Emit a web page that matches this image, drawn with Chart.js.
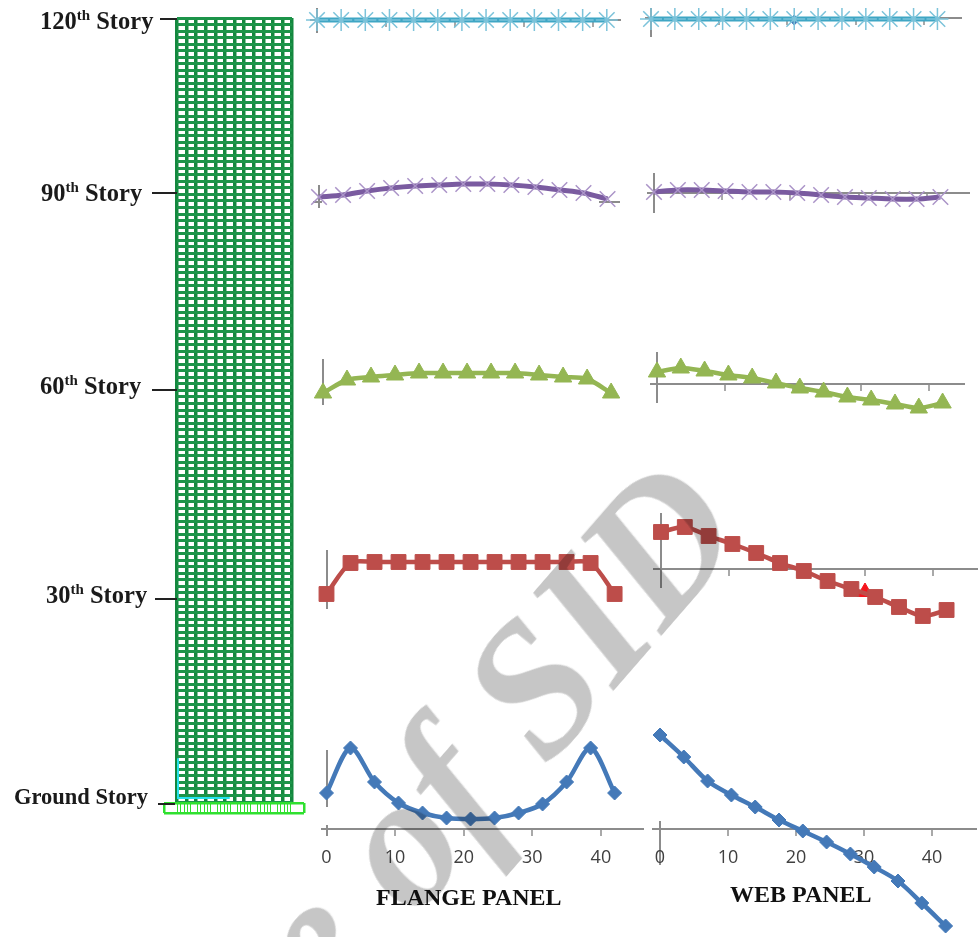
<!DOCTYPE html>
<html>
<head>
<meta charset="utf-8">
<title>Panels</title>
<script src="https://cdn.jsdelivr.net/npm/chart.js@4"></script>
<style>
  html, body { margin: 0; padding: 0; background: #fff; }
  #page { position: relative; width: 978px; height: 937px; overflow: hidden; filter: blur(0.45px); }
  #page canvas { position: absolute; left: 0; top: 0; }
  .story { position: absolute; font: bold 24.5px "Liberation Serif", serif; color: #1a1a1a; white-space: nowrap; line-height: 26px; }
  .story sup { font-size: 15px; line-height: 0; }
  .leader { position: absolute; height: 2px; background: #222; }
  .panel-title { position: absolute; font: bold 24px "Liberation Serif", serif; color: #111; white-space: nowrap; line-height: 24px; }
  #watermark {
    position: absolute; right: 194px; bottom: 374px; line-height: 1; white-space: nowrap;
    font: italic bold 190px "Liberation Serif", serif; color: #c6c6c6;
    transform-origin: 100% 100%; transform: rotate(-49deg) scaleX(0.98); mix-blend-mode: multiply;
  }
</style>
</head>
<body>
<div id="page"></div>
<script>
// Nodes along the panel width
const nodes = [0, 3.5, 7, 10.5, 14, 17.5, 21, 24.5, 28, 31.5, 35, 38.5, 42];
const xTicks = [0, 10, 20, 30, 40];

const flange120 = [0, 0, 0, 0, 0, 0, 0, 0, 0, 0, 0, 0, 0];
const web120 = [-1, -1, -1, -1, -1, -1, -1, -1, -1, -1, -1, -1, -1];
const flange90 = [5, 7, 11, 14, 16, 17, 18, 18, 17, 15, 12, 9, 3];
const web90 = [1, 3, 3, 2, 1, 1, 0, -2, -4, -5, -6, -6, -4];
const flange60 = [7, 20, 23, 25, 27, 27, 27, 27, 27, 25, 23, 21, 7];
const web60 = [12, 16, 13, 9, 6, 1, -4, -8, -13, -16, -20, -24, -19];
const flange30 = [6, 37, 38, 38, 38, 38, 38, 38, 38, 38, 38, 37, 6];
const web30 = [37, 42, 33, 25, 16, 6, -2, -12, -20, -28, -38, -47, -41];
const flangeGround = [36, 81, 47, 26, 16, 11, 10, 11, 16, 25, 47, 81, 36];
const webGround = [94, 72, 48, 34, 22, 9, -2, -13, -25, -38, -52, -74, -97];

const stories = ["120", "90", "60", "30"];
const titles = ["FLANGE PANEL", "WEB PANEL"];
const watermark = "Archive of SID";

const page = document.getElementById("page");

function newCanvas() {
  const c = document.createElement("canvas");
  c.width = 978;
  c.height = 937;
  page.appendChild(c);
  return c;
}

// Marker looks per story
const looks = {
  star: { pointStyle: "star", pointRadius: 11, line: "#3fa6c4", lineWidth: 5, point: "#7cc3da", pointBorderWidth: 1.5 },
  cross: { pointStyle: "crossRot", pointRadius: 11, line: "#7a5ba0", lineWidth: 5, point: "#ab94c8", pointBorderWidth: 1.5 },
  triangle: { pointStyle: "triangle", pointRadius: 10, line: "#94b653", lineWidth: 4.5, point: "#94b653", pointBorderWidth: 1 },
  square: { pointStyle: "rect", pointRadius: 10.5, line: "#bd4d4a", lineWidth: 4.5, point: "#bd4d4a", pointBorderWidth: 1 },
  diamond: { pointStyle: "rectRot", pointRadius: 7, line: "#4479b8", lineWidth: 4.5, point: "#4479b8", pointBorderWidth: 1 },
};

// box: axis extent in the page, x0/ppu/axisY place the scales. The plot area takes the
// full page height so no marker drops out. Vertical axis = grid line of x tick 0, dashed
// down to its visible length (scale borders can't be dashed, grid lines can).
function drawPanel(values, look, box, opts) {
  opts = opts || {};
  const ppu = box.ppu;
  const l = looks[look];
  const datasets = [{
    data: nodes.map((x, i) => ({ x: x, y: values[i] })),
    borderColor: l.line,
    borderWidth: l.lineWidth,
    tension: 0.3,
    pointStyle: l.pointStyle,
    pointRadius: l.pointRadius,
    pointBackgroundColor: l.point,
    pointBorderColor: l.point,
    pointBorderWidth: l.pointBorderWidth,
    clip: false,
  }];
  if (opts.extra) {
    datasets.push({
      data: [opts.extra.point],
      showLine: false,
      pointStyle: opts.extra.style,
      pointRadius: opts.extra.radius,
      pointBackgroundColor: opts.extra.color,
      pointBorderColor: opts.extra.color,
      clip: false,
    });
  }
  const hideAxis = opts.noXAxis || opts.xDash;
  new Chart(newCanvas(), {
    type: "line",
    data: { datasets: datasets },
    options: {
      responsive: false,
      animation: false,
      layout: { autoPadding: false, padding: { left: box.left, right: 978 - box.right, top: 0, bottom: 0 } },
      plugins: { legend: { display: false }, tooltip: { enabled: false } },
      scales: {
        x: {
          type: "linear",
          position: { y: 0 },
          min: (box.left - box.x0) / ppu,
          max: (box.right - box.x0) / ppu,
          afterBuildTicks: (axis) => { axis.ticks = xTicks.map((v) => ({ value: v })); },
          border: {
            display: !hideAxis,
            color: "#8c8c8c",
            width: 2,
            dash: opts.yDash || [0, box.top, box.bottom - box.top, 2000],
          },
          grid: {
            color: (c) => (c.tick.value === 0 ? "#8c8c8c" : "rgba(0,0,0,0)"),
            lineWidth: 2,
            drawTicks: !hideAxis,
            tickLength: 6,
            tickColor: (c) => (c.tick.value === 0 ? "rgba(0,0,0,0)" : "#8c8c8c"),
            tickWidth: 1.5,
          },
          ticks: {
            display: !!opts.labels,
            autoSkip: false,
            maxRotation: 0,
            padding: 12,
            color: "#404040",
            font: { family: "Open Sans", size: 18 },
          },
        },
        y: {
          type: "linear",
          position: { x: 0 },
          min: box.axisY - 937,
          max: box.axisY,
          afterBuildTicks: (axis) => { axis.ticks = [{ value: 0 }]; },
          border: { display: false, color: "#8c8c8c", width: 2, dash: opts.xDash || [] },
          grid: { display: !!opts.xDash, color: "#8c8c8c", lineWidth: 2, drawTicks: false },
          ticks: { display: false },
        },
      },
    },
  });
}

// Building frame: bays and stories come from the grid of the two scales
new Chart(newCanvas(), {
  type: "line",
  data: {
    datasets: [{
      data: [{ x: 0.1, y: 6.7 }, { x: 0.1, y: 0.6 }, { x: 5.5, y: 0.6 }],
      borderColor: "#25e3ee",
      borderWidth: 2,
      pointRadius: 0,
    }],
  },
  options: {
    responsive: false,
    animation: false,
    layout: { padding: { left: 177, right: 978 - 292, top: 18, bottom: 937 - 802 } },
    plugins: { legend: { display: false }, tooltip: { enabled: false } },
    scales: {
      x: {
        type: "linear", min: 0, max: 12,
        border: { display: false },
        grid: { color: "#14883f", lineWidth: 3.5, drawTicks: false },
        ticks: { display: false, stepSize: 1, autoSkip: false },
      },
      y: {
        type: "linear", min: 0, max: 120,
        border: { display: false },
        grid: { color: "#1c9449", lineWidth: 3, drawTicks: false },
        ticks: { display: false, stepSize: 1, autoSkip: false },
      },
    },
  },
});

// Base strip under the frame
new Chart(newCanvas(), {
  type: "line",
  data: { datasets: [] },
  options: {
    responsive: false,
    animation: false,
    layout: { padding: { left: 164, right: 978 - 304, top: 803, bottom: 937 - 813 } },
    plugins: { legend: { display: false }, tooltip: { enabled: false } },
    scales: {
      x: {
        type: "linear", min: 0, max: 42,
        border: { display: false },
        grid: {
          lineWidth: (c) => (c.tick.value === 0 || c.tick.value === 42 ? 2.5 : 1),
          drawTicks: false,
          color: (c) => (c.tick.value === 1 || c.tick.value === 2 || c.tick.value === 40 || c.tick.value === 41 || c.tick.value % 6 === 3
            ? "rgba(0,0,0,0)" : "#2fe02f"),
        },
        ticks: { display: false, stepSize: 1, autoSkip: false },
      },
      y: {
        type: "linear", min: 0, max: 1,
        border: { display: false },
        grid: { color: "#2fe02f", lineWidth: 2.5, drawTicks: false },
        ticks: { display: false, stepSize: 1 },
      },
    },
  },
});

drawPanel(flange120, "star", { x0: 317, ppu: 6.9, axisY: 20, left: 311, right: 620, top: 8, bottom: 33 }, {});
drawPanel(web120, "star", { x0: 651, ppu: 6.82, axisY: 18, left: 646, right: 961, top: 8, bottom: 37 }, {
  extra: { point: { x: 21, y: -2 }, style: "rectRot", radius: 5, color: "#4479b8" },
});
drawPanel(flange90, "cross", { x0: 319, ppu: 6.87, axisY: 202, left: 313, right: 620, top: 185, bottom: 208 }, {
  xDash: [9, 277, 21, 100],
});
drawPanel(web90, "cross", { x0: 654, ppu: 6.82, axisY: 193, left: 648, right: 969, top: 173, bottom: 213 }, {});
drawPanel(flange60, "triangle", { x0: 323, ppu: 6.86, axisY: 400, left: 316, right: 620, top: 359, bottom: 405 }, { noXAxis: true });
drawPanel(web60, "triangle", { x0: 657, ppu: 6.8, axisY: 384, left: 651, right: 964, top: 352, bottom: 403 }, {});
drawPanel(flange30, "square", { x0: 326.5, ppu: 6.86, axisY: 600, left: 320, right: 620, top: 550, bottom: 609 }, { noXAxis: true });
drawPanel(web30, "square", { x0: 661, ppu: 6.8, axisY: 569, left: 654, right: 977, top: 513, bottom: 588 }, {
  extra: { point: { x: 30, y: -23 }, style: "triangle", radius: 9, color: "#f5141c" },
});
drawPanel(flangeGround, "diamond", { x0: 326.5, ppu: 6.86, axisY: 829, left: 322, right: 643, top: 750, bottom: 836 }, {
  labels: true, yDash: [0, 750, 57, 18, 11, 2000],
});
drawPanel(webGround, "diamond", { x0: 660, ppu: 6.8, axisY: 829, left: 653, right: 976, top: 821, bottom: 865 }, { labels: true });

// Story labels and their leaders
function addStory(html, left, cy, lineLeft, lineRight, lineY, size) {
  const s = document.createElement("div");
  s.className = "story";
  s.style.left = left + "px";
  s.style.top = cy - 13 + "px";
  if (size) s.style.fontSize = size + "px";
  s.innerHTML = html;
  page.appendChild(s);
  const l = document.createElement("div");
  l.className = "leader";
  l.style.left = lineLeft + "px";
  l.style.width = lineRight - lineLeft + "px";
  l.style.top = lineY + "px";
  page.appendChild(l);
}
addStory(stories[0] + "<sup>th</sup> Story", 40, 21, 160, 177, 18);
addStory(stories[1] + "<sup>th</sup> Story", 41, 193, 152, 177, 192);
addStory(stories[2] + "<sup>th</sup> Story", 40, 386, 152, 177, 389);
addStory(stories[3] + "<sup>th</sup> Story", 46, 595, 155, 177, 598);
addStory("Ground Story", 14, 797, 158, 175, 803, 22.5);

function addTitle(text, left, cy) {
  const t = document.createElement("div");
  t.className = "panel-title";
  t.style.left = left + "px";
  t.style.top = cy - 12 + "px";
  t.textContent = text;
  page.appendChild(t);
}
addTitle(titles[0], 376, 897);
addTitle(titles[1], 730, 894);

const wm = document.createElement("div");
wm.id = "watermark";
wm.textContent = watermark;
page.appendChild(wm);
</script>
</body>
</html>
